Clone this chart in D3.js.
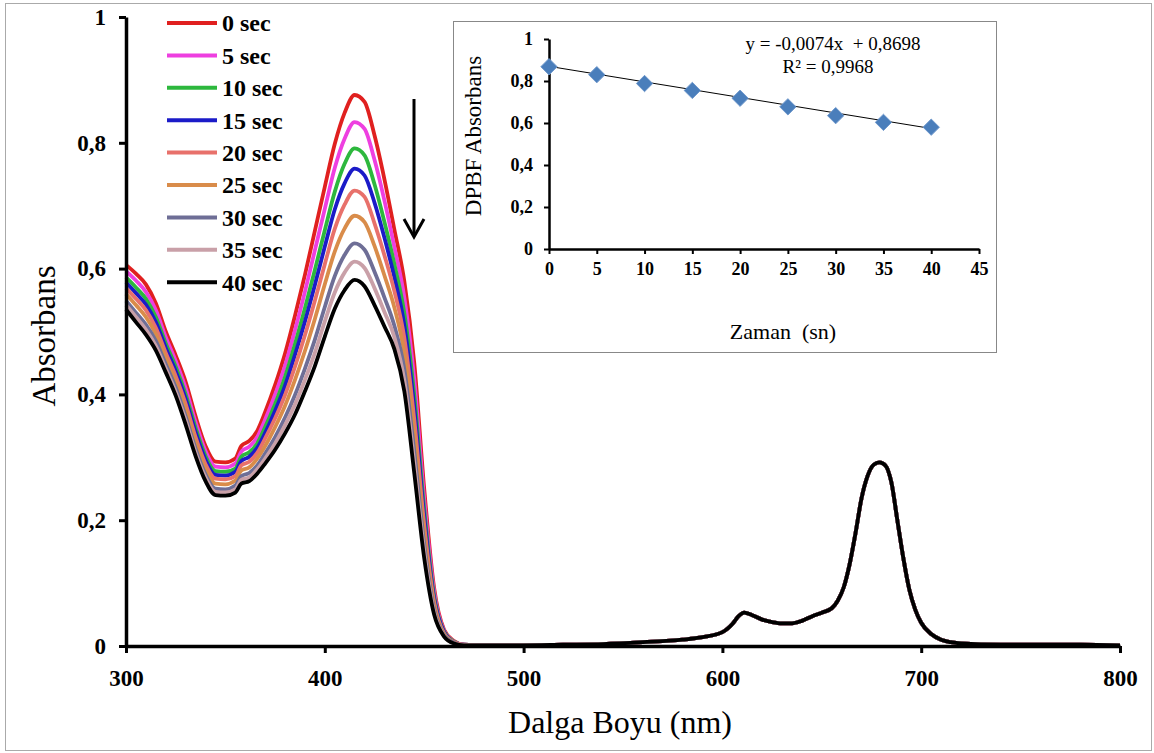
<!DOCTYPE html>
<html>
<head>
<meta charset="utf-8">
<script src="https://cdn.jsdelivr.net/npm/d3@7"></script>
<style>
    body { margin: 0; background: #fff; }
</style>
</head>
<body>
<div id="draw"></div>
<script>
// legend / series
const seriesLabels = ['0 sec', '5 sec', '10 sec', '15 sec', '20 sec', '25 sec', '30 sec', '35 sec', '40 sec'];
const seriesColors = ['#e0201f', '#ee3fe0', '#2db83d', '#1b1bc8', '#e8716b', '#d98c4a', '#6e6e96', '#c9a0a8', '#000000'];

// 300-470 nm: the part where the spectra differ
const headWl = [300, 305, 310, 315, 320, 325, 330, 335, 340, 345, 350, 355, 358, 362, 366, 370, 375, 380, 385, 390,
    395, 400, 405, 410, 415, 420, 425, 430, 435, 440, 445, 450, 455, 460, 465, 470];
const abs0 = [0.606, 0.592, 0.575, 0.545, 0.500, 0.462, 0.420, 0.365, 0.318, 0.293, 0.292, 0.298, 0.318, 0.326, 0.342, 0.372, 0.415, 0.465, 0.525, 0.590,
    0.660, 0.730, 0.798, 0.848, 0.876, 0.865, 0.812, 0.742, 0.662, 0.580, 0.450, 0.250, 0.092, 0.026, 0.008, 0.002];
const abs5 = [0.596, 0.581, 0.563, 0.534, 0.491, 0.453, 0.410, 0.356, 0.310, 0.285, 0.284, 0.290, 0.309, 0.317, 0.332, 0.360, 0.400, 0.446, 0.502, 0.563,
    0.629, 0.695, 0.760, 0.807, 0.833, 0.822, 0.773, 0.708, 0.634, 0.554, 0.424, 0.234, 0.086, 0.024, 0.007, 0.002];
const abs10 = [0.586, 0.570, 0.552, 0.523, 0.481, 0.444, 0.400, 0.347, 0.302, 0.278, 0.277, 0.282, 0.301, 0.308, 0.322, 0.348, 0.385, 0.428, 0.480, 0.537,
    0.598, 0.661, 0.722, 0.767, 0.791, 0.780, 0.734, 0.674, 0.607, 0.529, 0.399, 0.218, 0.080, 0.023, 0.007, 0.002];
const abs15 = [0.578, 0.561, 0.543, 0.515, 0.474, 0.437, 0.393, 0.340, 0.296, 0.272, 0.271, 0.277, 0.294, 0.301, 0.315, 0.339, 0.374, 0.414, 0.463, 0.516,
    0.574, 0.635, 0.694, 0.736, 0.759, 0.748, 0.705, 0.649, 0.586, 0.510, 0.380, 0.206, 0.075, 0.022, 0.006, 0.002];
const abs20 = [0.569, 0.552, 0.534, 0.506, 0.466, 0.429, 0.385, 0.332, 0.289, 0.266, 0.265, 0.270, 0.287, 0.293, 0.307, 0.330, 0.362, 0.399, 0.444, 0.494,
    0.549, 0.607, 0.663, 0.702, 0.724, 0.714, 0.672, 0.621, 0.564, 0.490, 0.360, 0.193, 0.070, 0.020, 0.006, 0.002];
const abs25 = [0.560, 0.542, 0.523, 0.496, 0.458, 0.420, 0.376, 0.324, 0.281, 0.258, 0.257, 0.263, 0.279, 0.284, 0.298, 0.318, 0.348, 0.382, 0.423, 0.469,
    0.520, 0.575, 0.627, 0.664, 0.684, 0.674, 0.636, 0.589, 0.538, 0.466, 0.336, 0.178, 0.065, 0.019, 0.005, 0.001];
const abs30 = [0.549, 0.530, 0.511, 0.485, 0.448, 0.411, 0.365, 0.314, 0.273, 0.250, 0.249, 0.255, 0.270, 0.275, 0.287, 0.306, 0.332, 0.363, 0.399, 0.441,
    0.487, 0.539, 0.588, 0.622, 0.640, 0.630, 0.595, 0.554, 0.509, 0.440, 0.310, 0.162, 0.058, 0.017, 0.005, 0.001];
const abs35 = [0.542, 0.523, 0.503, 0.477, 0.441, 0.404, 0.359, 0.308, 0.268, 0.245, 0.244, 0.249, 0.264, 0.268, 0.281, 0.298, 0.322, 0.351, 0.384, 0.423,
    0.466, 0.516, 0.562, 0.594, 0.611, 0.601, 0.569, 0.531, 0.491, 0.422, 0.292, 0.151, 0.054, 0.016, 0.004, 0.001];
const abs40 = [0.535, 0.515, 0.495, 0.470, 0.435, 0.398, 0.352, 0.302, 0.262, 0.240, 0.239, 0.244, 0.258, 0.262, 0.274, 0.290, 0.312, 0.338, 0.368, 0.405,
    0.445, 0.492, 0.536, 0.566, 0.582, 0.572, 0.542, 0.508, 0.472, 0.405, 0.275, 0.140, 0.050, 0.015, 0.004, 0.001];
const headAbs = [abs0, abs5, abs10, abs15, abs20, abs25, abs30, abs35, abs40];

// 480-800 nm: all spectra overlap here
const tailWl = [480, 500, 520, 540, 560, 580, 590, 600, 605, 608, 611, 615, 620, 625, 630, 635, 640, 645, 650, 655, 658, 661,
    664, 667, 670, 673, 676, 679, 682, 685, 688, 691, 694, 697, 700, 705, 710, 715, 720, 740, 760, 780, 800];
const tailAbs = [0.001, 0.001, 0.002, 0.003, 0.006, 0.010, 0.014, 0.022, 0.035, 0.047, 0.053, 0.049, 0.042, 0.038, 0.036, 0.036, 0.040, 0.047, 0.053, 0.060, 0.072, 0.093,
    0.130, 0.180, 0.235, 0.270, 0.288, 0.292, 0.287, 0.260, 0.200, 0.140, 0.090, 0.058, 0.037, 0.019, 0.010, 0.006, 0.004, 0.002, 0.002, 0.002, 0.001];

// inset: DPBF absorbance vs time
const insetTimes = [0, 5, 10, 15, 20, 25, 30, 35, 40];
const insetAbs = [0.868, 0.830, 0.788, 0.755, 0.718, 0.677, 0.635, 0.603, 0.580];
const fitSlope = -0.0074, fitIntercept = 0.8698, fitR2 = 0.9968;

const xTicks = [300, 400, 500, 600, 700, 800];
const yTicks = [0, 0.2, 0.4, 0.6, 0.8, 1];
const insetXTicks = [0, 5, 10, 15, 20, 25, 30, 35, 40, 45];
const insetYTicks = [0, 0.2, 0.4, 0.6, 0.8, 1];

let width = 1154,
    height = 753,
    serif = "'Liberation Serif', 'Times New Roman', 'DejaVu Serif', serif";

let comma = v => String(+v.toFixed(4)).replace('.', ',');

let svg = d3.select('#draw')
    .append('svg')
    .attr('width', width)
    .attr('height', height)
    .style('font-family', serif);

svg.append('rect')
    .attr('x', 5.5).attr('y', 3.5)
    .attr('width', 1146).attr('height', 747)
    .attr('fill', 'none')
    .attr('stroke', '#aaa');

// main chart
let xScale = d3.scaleLinear().domain([300, 800]).range([126, 1120]),
    yScale = d3.scaleLinear().domain([0, 1]).range([646, 17]);

let series = headAbs.map((vals, i) => {
    let pts = headWl.map((w, j) => ({ w: w, a: vals[j] }))
        .concat(tailWl.map((w, j) => ({ w: w, a: tailAbs[j] })));
    return { label: seriesLabels[i], color: seriesColors[i], pts: pts };
});

let line = d3.line()
    .x(d => xScale(d.w))
    .y(d => yScale(d.a))
    .curve(d3.curveMonotoneX);

svg.append('g')
    .selectAll('path')
    .data(series)
    .enter()
    .append('path')
    .attr('d', d => line(d.pts))
    .attr('fill', 'none')
    .attr('stroke', d => d.color)
    .attr('stroke-width', 3.8)
    .attr('stroke-linejoin', 'round');

let xAxis = svg.append('g')
    .attr('transform', 'translate(0,' + yScale(0) + ')')
    .call(d3.axisBottom(xScale).tickValues(xTicks).tickSize(7).tickPadding(17).tickSizeOuter(0));
let yAxis = svg.append('g')
    .attr('transform', 'translate(' + xScale(300) + ',0)')
    .call(d3.axisLeft(yScale).tickValues(yTicks).tickSize(7).tickPadding(13).tickSizeOuter(0).tickFormat(comma));

[xAxis, yAxis].forEach(a => {
    a.attr('font-family', serif);
    a.select('.domain').attr('stroke', '#000').attr('stroke-width', 3.5);
    a.selectAll('.tick line').attr('stroke', '#000').attr('stroke-width', 3);
    a.selectAll('.tick text')
        .style('font-family', serif)
        .style('font-size', '23px')
        .style('font-weight', 'bold')
        .attr('fill', '#000');
});

svg.append('text')
    .attr('x', 620)
    .attr('y', 733)
    .attr('text-anchor', 'middle')
    .style('font-size', '32px')
    .text('Dalga Boyu (nm)');

svg.append('text')
    .attr('transform', 'translate(55,336) rotate(-90)')
    .attr('text-anchor', 'middle')
    .style('font-size', '33px')
    .text('Absorbans');

// legend
let legend = svg.append('g')
    .selectAll('g')
    .data(series)
    .enter()
    .append('g')
    .attr('transform', (d, i) => 'translate(167,' + (23 + i * 32.4) + ')');
legend.append('line')
    .attr('x1', 0).attr('x2', 50)
    .attr('stroke', d => d.color)
    .attr('stroke-width', 4);
legend.append('text')
    .attr('x', 55)
    .attr('dy', '0.35em')
    .style('font-size', '24px')
    .style('font-weight', 'bold')
    .text(d => d.label);

// arrow
let arrow = svg.append('g')
    .attr('fill', 'none')
    .attr('stroke', '#000')
    .attr('stroke-width', 3);
arrow.append('line').attr('x1', 414).attr('x2', 414).attr('y1', 99).attr('y2', 236);
arrow.append('path').attr('d', 'M404,219L414,237L424,219');

// inset
let inset = svg.append('g');
inset.append('rect')
    .attr('x', 453.5).attr('y', 21.5)
    .attr('width', 543).attr('height', 331)
    .attr('fill', '#fff')
    .attr('stroke', '#888');

let ixScale = d3.scaleLinear().domain([0, 45]).range([549, 979]),
    iyScale = d3.scaleLinear().domain([0, 1]).range([249, 39]);

let ixAxis = inset.append('g')
    .attr('transform', 'translate(0,' + iyScale(0) + ')')
    .call(d3.axisBottom(ixScale).tickValues(insetXTicks).tickSize(5).tickPadding(8).tickSizeOuter(0));
let iyAxis = inset.append('g')
    .attr('transform', 'translate(' + ixScale(0) + ',0)')
    .call(d3.axisLeft(iyScale).tickValues(insetYTicks).tickSize(5).tickPadding(11).tickSizeOuter(0).tickFormat(comma));

[ixAxis, iyAxis].forEach(a => {
    a.attr('font-family', serif);
    a.select('.domain').attr('stroke', '#000').attr('stroke-width', 2.5);
    a.selectAll('.tick line').attr('stroke', '#000').attr('stroke-width', 2);
    a.selectAll('.tick text')
        .style('font-family', serif)
        .style('font-size', '18px')
        .style('font-weight', 'bold')
        .attr('fill', '#000');
});

inset.append('line')
    .attr('x1', ixScale(0)).attr('y1', iyScale(fitIntercept))
    .attr('x2', ixScale(40)).attr('y2', iyScale(fitIntercept + fitSlope * 40))
    .attr('stroke', '#000')
    .attr('stroke-width', 1);

inset.append('g')
    .selectAll('path')
    .data(insetTimes)
    .enter()
    .append('path')
    .attr('d', d3.symbol().type(d3.symbolDiamond2).size(170))
    .attr('transform', (d, i) => 'translate(' + ixScale(d) + ',' + iyScale(insetAbs[i]) + ')')
    .attr('fill', '#4a7ebb')
    .attr('stroke', '#6f98cc')
    .attr('stroke-width', 1);

inset.append('text')
    .attr('x', 833).attr('y', 50)
    .attr('text-anchor', 'middle')
    .style('font-size', '19px')
    .style('white-space', 'pre')
    .text('y = ' + comma(fitSlope) + 'x  + ' + comma(fitIntercept));

inset.append('text')
    .attr('x', 828).attr('y', 73)
    .attr('text-anchor', 'middle')
    .style('font-size', '19px')
    .text('R² = ' + comma(fitR2));

inset.append('text')
    .attr('x', 783).attr('y', 339)
    .attr('text-anchor', 'middle')
    .style('font-size', '22px')
    .style('white-space', 'pre')
    .text('Zaman  (sn)');

inset.append('text')
    .attr('transform', 'translate(481,136) rotate(-90)')
    .attr('text-anchor', 'middle')
    .style('font-size', '23px')
    .text('DPBF Absorbans');
</script>
</body>
</html>
